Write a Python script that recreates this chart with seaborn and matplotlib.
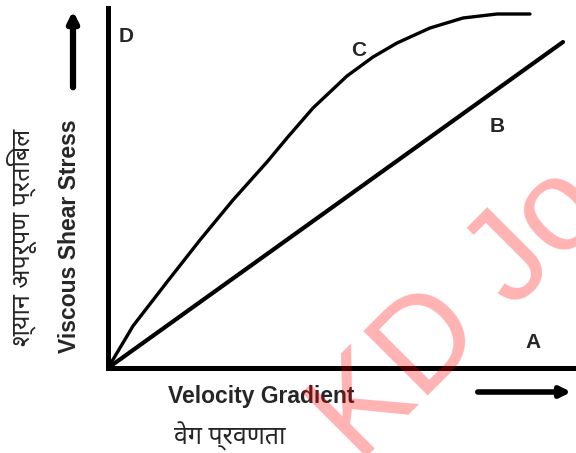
import numpy as np
import pandas as pd
import matplotlib
matplotlib.use("Agg")
import matplotlib.pyplot as plt
import seaborn as sns
from matplotlib import font_manager

# curve values (x: velocity gradient, y: shear stress)
curve_c_x = [0, 25, 59, 92, 125, 159, 179, 205, 239, 265, 289, 322, 355, 389, 422]
curve_c_y = [0, 42, 86, 128, 168, 206, 230, 260, 292, 311, 325, 340, 350, 354, 354]
line_b_x = [0, 455]
line_b_y = [0, 326]

labels_en = ["Viscous Shear Stress", "Velocity Gradient"]
labels_hi = ["श्यान अपरूपण प्रतिबल", "वेग प्रवणता"]

sns.set_style("white")
plt.rcParams["font.family"] = ["Liberation Sans", "DejaVu Sans"]

# pick a Devanagari font that is installed
installed = {f.name for f in font_manager.fontManager.ttflist}
hindi_family = [n for n in ["Noto Sans Devanagari", "Hind", "Mukta", "Poppins",
                            "Tiro Devanagari Hindi", "Unifont"] if n in installed]
hindi_family = hindi_family[:1] + ["DejaVu Sans"]

fig = plt.figure(figsize=(5.76, 4.53), dpi=100)
ax = fig.add_axes([108 / 576, 85 / 453, 467 / 576, 360 / 453])

df_c = pd.DataFrame({"x": curve_c_x, "y": curve_c_y})
df_b = pd.DataFrame({"x": line_b_x, "y": line_b_y})
sns.lineplot(data=df_c, x="x", y="y", ax=ax, color="black", lw=2.4,
             solid_capstyle="round", solid_joinstyle="round", clip_on=False)
sns.lineplot(data=df_b, x="x", y="y", ax=ax, color="black", lw=3.0,
             solid_capstyle="round", clip_on=False)

ax.set_xlim(0, 467)
ax.set_ylim(0, 360)
ax.set_xticks([])
ax.set_yticks([])
ax.set_xlabel("")
ax.set_ylabel("")
for s in ["top", "right"]:
    ax.spines[s].set_visible(False)
for s in ["left", "bottom"]:
    ax.spines[s].set_linewidth(3.6)
    ax.spines[s].set_color("black")

# curve letters
for txt, (px, py) in zip(["D", "C", "B", "A"],
                         [(126, 36), (359, 50), (497, 126), (533, 342)]):
    fig.text(px / 576, 1 - py / 453, txt, fontsize=15, fontweight="bold",
             ha="center", va="center")

fig.text(70 / 576, 1 - 236 / 453, labels_en[0], rotation=90, fontsize=16.5,
         fontweight="bold", ha="center", va="center")
fig.text(261 / 576, 1 - 397 / 453, labels_en[1], fontsize=16.5,
         fontweight="bold", ha="center", va="center")
fig.text(22 / 576, 1 - 237 / 453, labels_hi[0], rotation=90, fontsize=18,
         family=hindi_family, ha="center", va="center")
fig.text(230 / 576, 1 - 436 / 453, labels_hi[1], fontsize=18,
         family=hindi_family, ha="center", va="center")

# direction arrows
fig.add_artist(matplotlib.patches.FancyArrowPatch(
    (73 / 576, 1 - 90 / 453), (73 / 576, 1 - 8 / 453),
    transform=fig.transFigure, arrowstyle="-|>,head_length=6,head_width=3",
    lw=4.5, color="black", mutation_scale=1))
fig.add_artist(matplotlib.patches.FancyArrowPatch(
    (475 / 576, 1 - 392 / 453), (574 / 576, 1 - 392 / 453),
    transform=fig.transFigure, arrowstyle="-|>,head_length=6,head_width=3",
    lw=4, color="black", mutation_scale=1))

# watermark
fig.text(359 / 576, 1 - 464 / 453, "KD Jo", rotation=45, fontsize=94,
         color="red", alpha=0.3, rotation_mode="anchor", ha="left", va="baseline")

fig.savefig("out.png", dpi=100)
